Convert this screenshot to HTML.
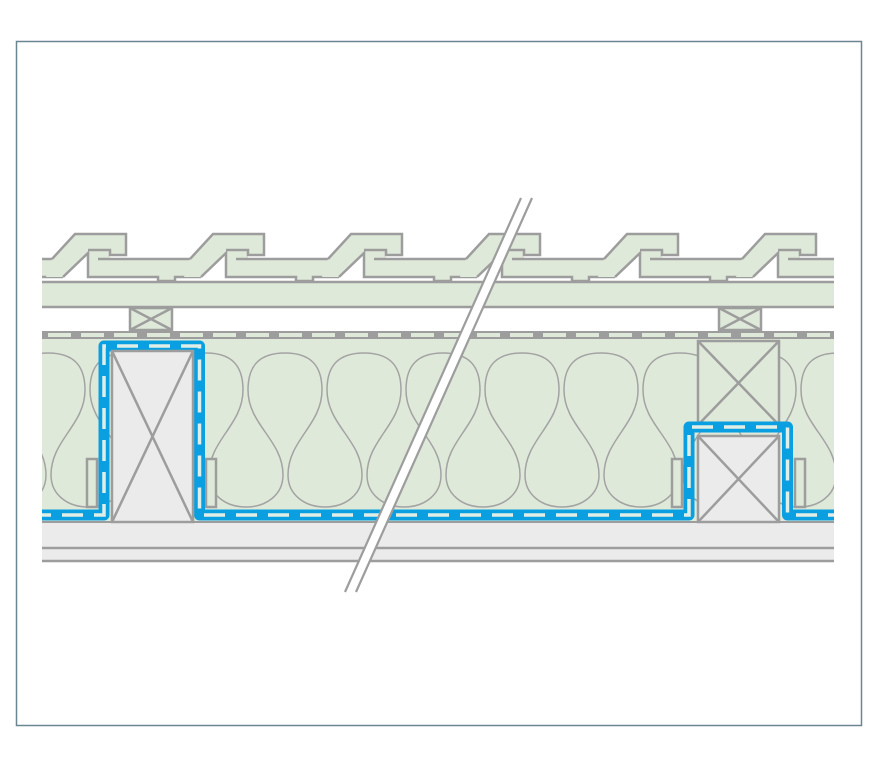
<!DOCTYPE html>
<html><head><style>html,body{margin:0;padding:0;background:#fff;}svg{display:block;}</style></head>
<body>
<svg width="886" height="768" viewBox="0 0 886 768" xmlns="http://www.w3.org/2000/svg">
<defs>
<clipPath id="c"><rect x="42" y="150" width="792" height="450"/></clipPath>
<g id="tile">
  <polygon points="52,259 75,234 126,234 126,255 110,255 110,259 196,259 201,277 175,277 175,281 158,281 158,277 88,277 88,253 63,277 46,277" fill="#dfe9d9"/>
  <polyline points="52,259 75,234 126,234 126,255 110,255 110,250 88,250" fill="none" stroke="#9d9d9d" stroke-width="2.5"/>
  <polyline points="98,259 190,259" fill="none" stroke="#9d9d9d" stroke-width="2.5"/>
  <polyline points="63,277 88,253 88,277 158,277 158,281 175,281 175,277 201,277" fill="none" stroke="#9d9d9d" stroke-width="2.5"/>
</g>
<path id="snake" d="M-37,390 C-37,365 -25,353 0,353 C25,353 37,365 37,390 C37,425 3,440 3,475 C3,495 20,507 40,507 C60,507 77,495 77,475 C77,440 42,425 42,390" fill="none" stroke="#a3a3a3" stroke-width="1.5"/>
</defs>
<rect x="16.5" y="41.5" width="845" height="684" fill="#fff" stroke="#6a8693" stroke-width="1.5"/>
<g clip-path="url(#c)">
  <!-- tiles -->
  <use href="#tile" x="-138"/><use href="#tile" x="0"/><use href="#tile" x="138"/><use href="#tile" x="276"/>
  <use href="#tile" x="414"/><use href="#tile" x="552"/><use href="#tile" x="690"/><use href="#tile" x="828"/>
  <!-- batten board -->
  <rect x="30" y="282" width="820" height="25" fill="#dfe9d9"/>
  <line x1="30" y1="282" x2="850" y2="282" stroke="#9d9d9d" stroke-width="2.5"/>
  <line x1="30" y1="307" x2="850" y2="307" stroke="#9d9d9d" stroke-width="2.5"/>
  <!-- small X boxes -->
  <g fill="#dfe9d9" stroke="#9d9d9d" stroke-width="2.5">
    <rect x="130" y="308" width="42" height="22"/><path d="M130,308 L172,330 M172,308 L130,330" fill="none"/>
    <rect x="719" y="308" width="42" height="22"/><path d="M719,308 L761,330 M761,308 L719,330" fill="none"/>
  </g>
  <!-- insulation -->
  <rect x="30" y="338" width="820" height="184" fill="#dfe9d9"/>
  <use href="#snake" x="-31"/><use href="#snake" x="48"/><use href="#snake" x="127"/><use href="#snake" x="206"/>
  <use href="#snake" x="285"/><use href="#snake" x="364"/><use href="#snake" x="443"/><use href="#snake" x="522"/>
  <use href="#snake" x="601"/><use href="#snake" x="680"/><use href="#snake" x="759"/><use href="#snake" x="838"/>
  <!-- dashed strip -->
  <rect x="30" y="331" width="820" height="8" fill="#9d9d9d"/>
  <line x1="48" y1="335" x2="850" y2="335" stroke="#dfe9d9" stroke-width="4" stroke-dasharray="23 10"/>
  <!-- bottom boards -->
  <rect x="30" y="521" width="820" height="40" fill="#ebebeb"/>
  <line x1="30" y1="522" x2="850" y2="522" stroke="#9d9d9d" stroke-width="2"/>
  <line x1="30" y1="548" x2="850" y2="548" stroke="#9d9d9d" stroke-width="2.5"/>
  <line x1="30" y1="561" x2="850" y2="561" stroke="#9d9d9d" stroke-width="2.5"/>
  <!-- right upper rafter -->
  <rect x="698" y="341" width="81" height="84" fill="#dfe9d9" stroke="#9d9d9d" stroke-width="2.5"/>
  <path d="M698,341 L779,425 M779,341 L698,425" stroke="#9d9d9d" stroke-width="2.5"/>
  <!-- small battens -->
  <g fill="#dfe9d9" stroke="#9d9d9d" stroke-width="2.5">
    <rect x="87" y="459" width="10" height="48"/><rect x="206" y="459" width="10" height="48"/>
    <rect x="672" y="459" width="10" height="48"/><rect x="795" y="459" width="10" height="48"/>
  </g>
  <!-- membrane -->
  <path d="M30,515 L104,515 L104,346 L199.5,346 L199.5,515 L689,515 L689,427 L787.5,427 L787.5,515 L850,515" fill="none" stroke="#0a9fe0" stroke-width="11" stroke-linejoin="round"/>
  <path d="M30,515 L104,515 L104,346 L199.5,346 L199.5,515 L689,515 L689,427 L787.5,427 L787.5,515 L850,515" fill="none" stroke="#dfeee6" stroke-width="3.5" stroke-dasharray="21 11"/>
  <!-- rafters -->
  <rect x="112" y="351" width="81" height="171" fill="#ebebeb" stroke="#9d9d9d" stroke-width="2.5"/>
  <path d="M112,351 L193,522 M193,351 L112,522" stroke="#9d9d9d" stroke-width="2.5"/>
  <rect x="698" y="436" width="81" height="86" fill="#ebebeb" stroke="#9d9d9d" stroke-width="2.5"/>
  <path d="M698,436 L779,522 M779,436 L698,522" stroke="#9d9d9d" stroke-width="2.5"/>
</g>
<!-- break lines -->
<polygon points="521,198 532,198 356,592 345,592" fill="#fff"/>
<line x1="521" y1="198" x2="345" y2="592" stroke="#9d9d9d" stroke-width="2.2"/>
<line x1="532" y1="198" x2="356" y2="592" stroke="#9d9d9d" stroke-width="2.2"/>
</svg>
</body></html>
